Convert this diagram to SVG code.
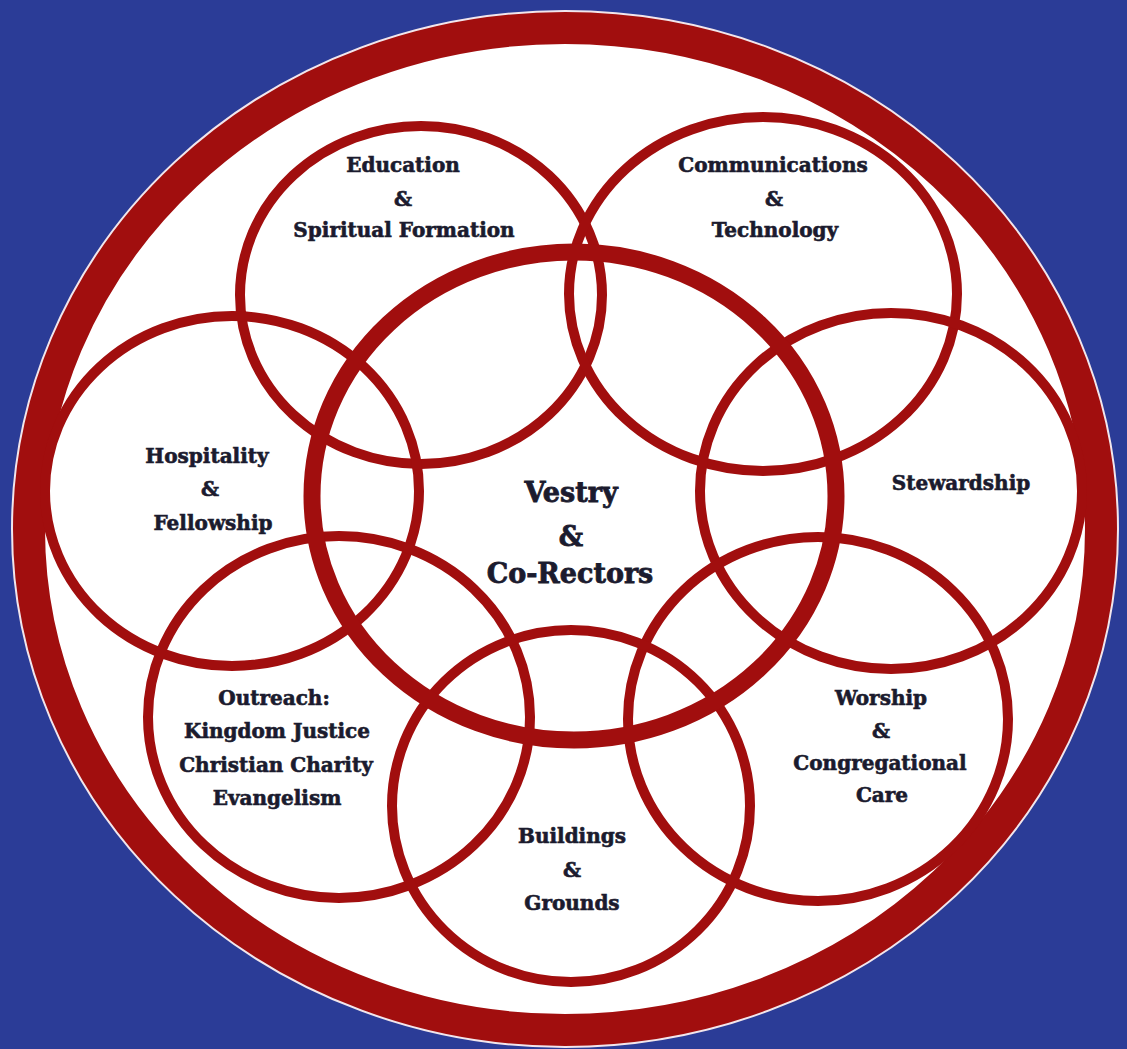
<svg xmlns="http://www.w3.org/2000/svg" width="1127" height="1049" viewBox="0 0 1127 1049">
<style>
.ring{fill:none;stroke:#A10E0E;stroke-width:10}
.core{fill:none;stroke:#A10E0E;stroke-width:17}
.lbl{font-family:"DejaVu Serif","Liberation Serif",serif;font-weight:bold;font-size:20px;fill:#1B1B2E;stroke:#1B1B2E;stroke-width:0.6;text-anchor:middle}
.big{font-size:27px;stroke-width:0.8}
</style>
<rect x="0" y="0" width="1127" height="1049" fill="#2B3C97"/>
<g id="frame">
<ellipse cx="565" cy="529" rx="552" ry="517" fill="#FFFFFF" stroke="#F2E6EC" stroke-width="4"/>
<ellipse cx="565" cy="529" rx="536" ry="501" fill="#FFFFFF" stroke="#A10E0E" stroke-width="32"/>
</g>
<g id="education">
<ellipse class="ring" cx="421" cy="295" rx="181" ry="169"/>
<text class="lbl" x="403" y="172">Education</text>
<text class="lbl" x="403" y="206">&amp;</text>
<text class="lbl" x="404" y="237">Spiritual Formation</text>
</g>
<g id="communications">
<ellipse class="ring" cx="763" cy="294" rx="194" ry="177"/>
<text class="lbl" x="773" y="172">Communications</text>
<text class="lbl" x="774" y="206">&amp;</text>
<text class="lbl" x="775" y="237">Technology</text>
</g>
<g id="hospitality">
<ellipse class="ring" cx="232" cy="491" rx="187" ry="175"/>
<text class="lbl" x="207" y="463">Hospitality</text>
<text class="lbl" x="210" y="496">&amp;</text>
<text class="lbl" x="213" y="530">Fellowship</text>
</g>
<g id="stewardship">
<ellipse class="ring" cx="891" cy="491" rx="191" ry="178"/>
<text class="lbl" x="961" y="490">Stewardship</text>
</g>
<g id="outreach">
<ellipse class="ring" cx="339" cy="717" rx="191" ry="181"/>
<text class="lbl" x="274" y="705">Outreach:</text>
<text class="lbl" x="277" y="738">Kingdom Justice</text>
<text class="lbl" x="276" y="772">Christian Charity</text>
<text class="lbl" x="277" y="805">Evangelism</text>
</g>
<g id="worship">
<ellipse class="ring" cx="818" cy="719" rx="190" ry="182"/>
<text class="lbl" x="881" y="705">Worship</text>
<text class="lbl" x="881" y="738">&amp;</text>
<text class="lbl" x="880" y="770">Congregational</text>
<text class="lbl" x="882" y="802">Care</text>
</g>
<g id="buildings">
<ellipse class="ring" cx="571" cy="806" rx="179" ry="176"/>
<text class="lbl" x="572" y="843">Buildings</text>
<text class="lbl" x="572" y="877">&amp;</text>
<text class="lbl" x="572" y="910">Grounds</text>
</g>
<g id="vestry">
<ellipse class="core" cx="574" cy="496" rx="262" ry="244"/>
<text class="lbl big" x="571" y="502">Vestry</text>
<text class="lbl big" x="571" y="546">&amp;</text>
<text class="lbl big" x="570" y="583">Co-Rectors</text>
</g>
</svg>
